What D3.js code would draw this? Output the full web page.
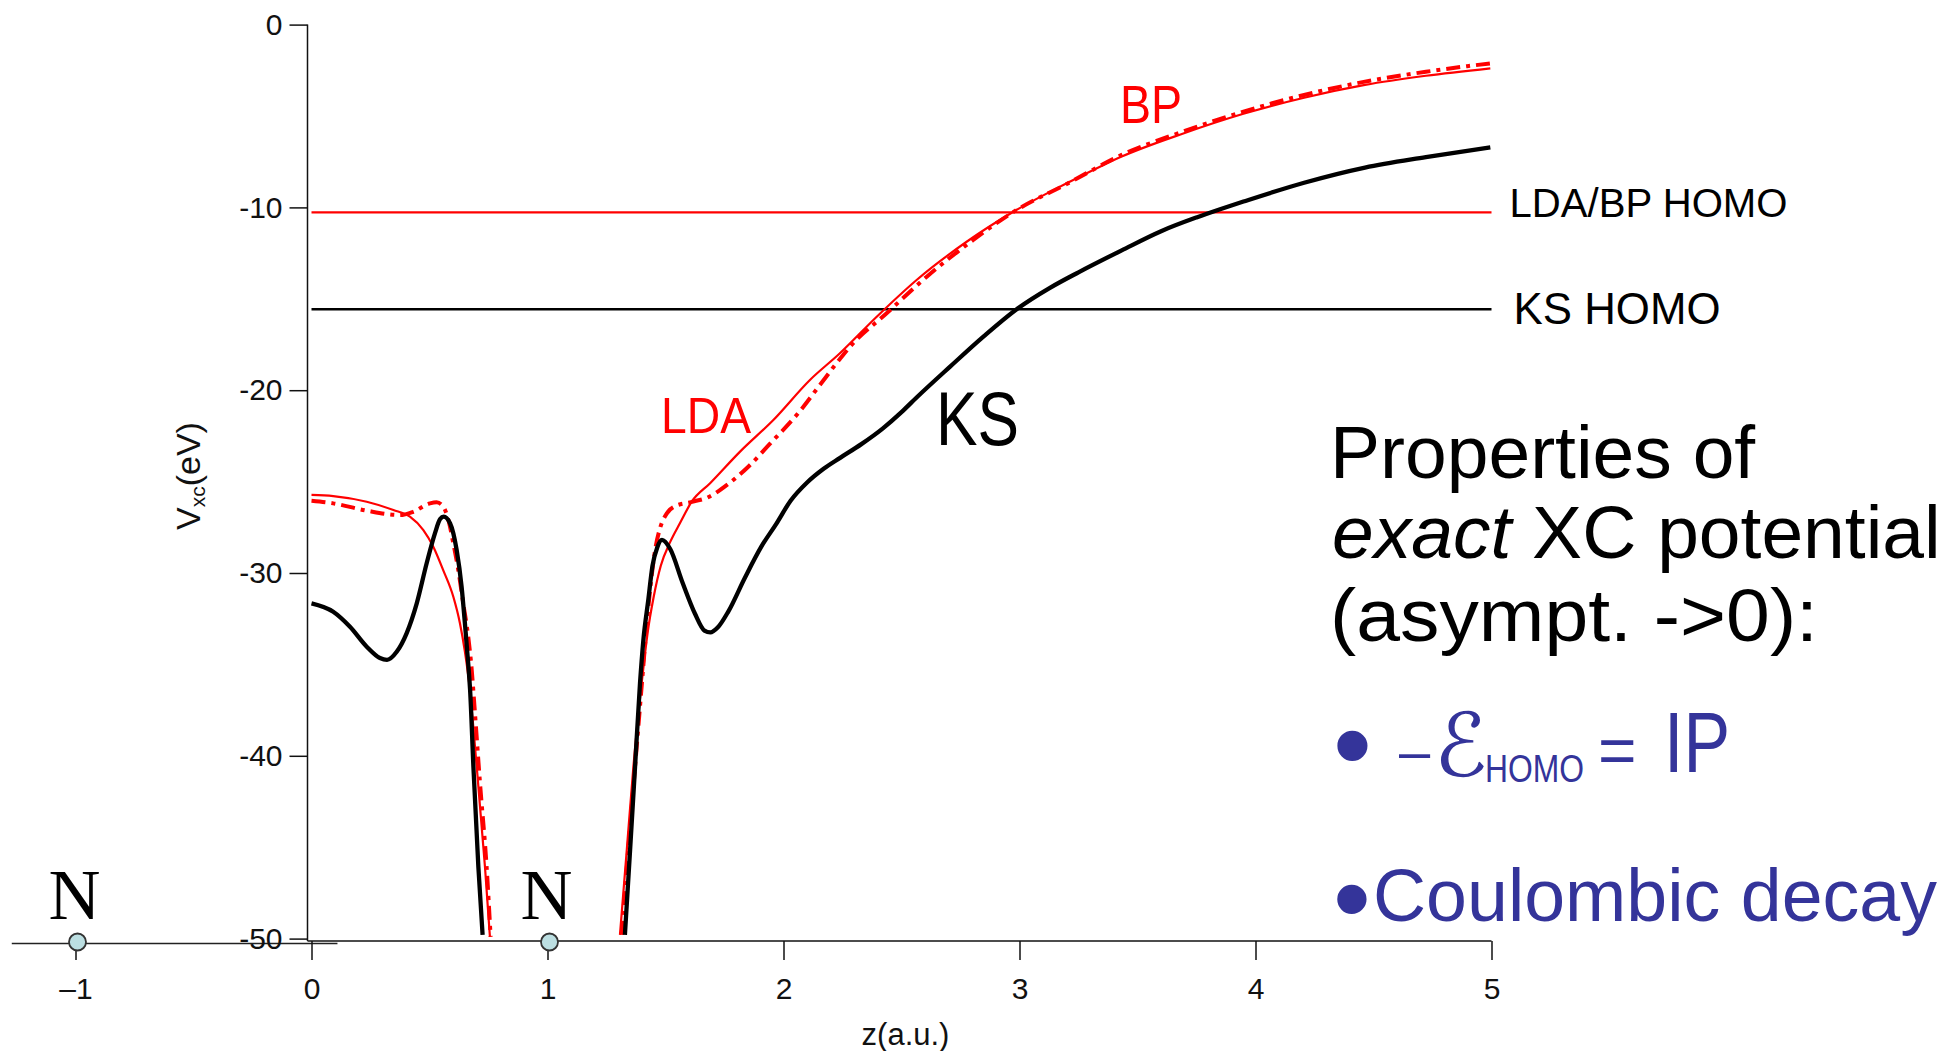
<!DOCTYPE html>
<html><head><meta charset="utf-8">
<script src="https://cdn.jsdelivr.net/npm/d3@7"></script>
<style>html,body{margin:0;padding:0;background:#fff;} svg{display:block}</style>
</head><body>
<script>
// ---- data: [z (a.u.), Vxc (eV)] ----
const ksLeft = [[0.000,-31.66],[0.092,-32.12],[0.163,-32.94],[0.234,-34.03],[0.290,-34.65],[0.320,-34.75],[0.361,-34.31],[0.403,-33.30],[0.446,-31.66],[0.488,-29.47],[0.523,-27.83],[0.545,-27.05],[0.560,-26.92],[0.587,-27.28],[0.615,-28.74],[0.636,-30.75],[0.650,-32.75],[0.664,-34.94],[0.672,-36.40],[0.686,-40.60],[0.707,-46.07],[0.725,-49.80]];
const ksRight = [[1.328,-49.80],[1.350,-45.15],[1.371,-40.60],[1.392,-36.03],[1.406,-33.70],[1.427,-31.48],[1.445,-29.60],[1.465,-28.60],[1.485,-28.19],[1.520,-28.69],[1.572,-30.52],[1.625,-32.23],[1.665,-33.15],[1.690,-33.25],[1.722,-32.97],[1.766,-32.11],[1.836,-30.27],[1.906,-28.56],[1.968,-27.34],[2.030,-26.05],[2.100,-25.05],[2.170,-24.30],[2.240,-23.70],[2.330,-22.95],[2.420,-22.10],[2.500,-21.20],[2.564,-20.40],[2.706,-18.71],[2.847,-17.07],[2.988,-15.57],[3.129,-14.40],[3.250,-13.55],[3.433,-12.35],[3.600,-11.30],[3.750,-10.55],[3.850,-10.10],[3.949,-9.68],[4.206,-8.65],[4.464,-7.82],[4.722,-7.25],[4.995,-6.71]];
const ldaLeft = [[0.000,-25.73],[0.092,-25.79],[0.234,-26.10],[0.347,-26.55],[0.417,-26.92],[0.474,-27.65],[0.516,-28.56],[0.558,-29.84],[0.601,-31.30],[0.629,-32.75],[0.650,-34.30],[0.668,-36.03],[0.700,-40.60],[0.735,-46.07],[0.756,-49.90]];
const ldaRight = [[1.307,-49.80],[1.336,-45.15],[1.364,-40.60],[1.399,-36.03],[1.425,-33.20],[1.450,-31.30],[1.480,-29.60],[1.520,-28.30],[1.561,-27.28],[1.611,-26.10],[1.689,-25.09],[1.816,-23.36],[1.957,-21.63],[2.112,-19.44],[2.239,-17.98],[2.395,-15.98],[2.564,-13.97],[2.776,-11.88],[2.974,-10.24],[3.200,-8.68],[3.341,-7.77],[3.433,-7.22],[3.691,-5.97],[3.949,-4.88],[4.206,-4.00],[4.464,-3.30],[4.722,-2.80],[4.995,-2.39]];
const bpLeft = [[0.000,-26.05],[0.092,-26.19],[0.234,-26.59],[0.375,-26.83],[0.431,-26.65],[0.502,-26.19],[0.530,-26.13],[0.558,-26.37],[0.580,-27.10],[0.601,-28.38],[0.622,-29.84],[0.643,-31.66],[0.664,-33.48],[0.679,-35.31],[0.690,-37.20],[0.714,-41.50],[0.742,-46.07],[0.759,-49.90]];
const bpRight = [[1.314,-49.80],[1.342,-45.15],[1.371,-40.60],[1.400,-36.03],[1.423,-32.48],[1.440,-30.30],[1.458,-28.60],[1.478,-27.50],[1.505,-26.75],[1.538,-26.36],[1.608,-26.12],[1.678,-25.87],[1.766,-25.13],[1.853,-24.16],[1.942,-22.94],[2.064,-21.23],[2.155,-19.70],[2.239,-18.29],[2.282,-17.62],[2.437,-15.79],[2.607,-13.79],[2.804,-11.78],[2.988,-10.14],[3.200,-8.72],[3.433,-7.13],[3.691,-5.86],[3.949,-4.76],[4.206,-3.85],[4.464,-3.12],[4.722,-2.58],[4.995,-2.12]];
const homoLevels = [-10.27, -15.57];
const homoLabels = ["LDA/BP HOMO", "KS HOMO"];
const xTicks = [-1, 0, 1, 2, 3, 4, 5];
const xTickLabels = ["\u20131", "0", "1", "2", "3", "4", "5"];
const yTicks = [0, -10, -20, -30, -40, -50];
const yTickLabels = ["0", "-10", "-20", "-30", "-40", "-50"];
const atoms = [-1, 1];

// ---- drawing ----
const W = 1954, H = 1051;
const SANS = "'Liberation Sans', Arial, Helvetica, sans-serif";
const RED = "#ff0000", BLUE = "#34349a";
const svg = d3.select("body").append("svg").attr("width", W).attr("height", H);
svg.append("rect").attr("width", W).attr("height", H).attr("fill", "#fff");

const x = d3.scaleLinear().domain([0, 5]).range([311.5, 1491.5]);
const y = d3.scaleLinear().domain([-50, 0]).range([938.6, 24.6]);
const axisY = 941;
const yAxisX = x(0) - 4;

// left extension of the baseline (molecule axis)
svg.append("line").attr("x1", x(-1.27)).attr("x2", x(0.11)).attr("y1", axisY + 2.5).attr("y2", axisY + 2.5)
  .attr("stroke", "#222").attr("stroke-width", 1.5);

// x axis
const gx = svg.append("g").attr("transform", `translate(0,${axisY})`)
  .call(d3.axisBottom(x).tickValues(xTicks).tickSize(19).tickPadding(18).tickFormat((d, i) => xTickLabels[i]));
gx.select(".domain").remove();
gx.selectAll(".tick line").attr("stroke", "#111").attr("stroke-width", 1.5);
gx.selectAll(".tick text").attr("font-family", SANS).attr("font-size", 30).attr("fill", "#111");
svg.append("line").attr("x1", yAxisX).attr("x2", x(5)).attr("y1", axisY).attr("y2", axisY)
  .attr("stroke", "#111").attr("stroke-width", 1.5);

// y axis
const gy = svg.append("g").attr("transform", `translate(${yAxisX},0)`)
  .call(d3.axisLeft(y).tickValues(yTicks).tickSize(18).tickPadding(7).tickFormat((d, i) => yTickLabels[i]));
gy.select(".domain").remove();
gy.selectAll(".tick line").attr("stroke", "#111").attr("stroke-width", 1.5);
gy.selectAll(".tick text").attr("font-family", SANS).attr("font-size", 30).attr("fill", "#111");
svg.append("line").attr("x1", yAxisX).attr("x2", yAxisX).attr("y1", y(0)).attr("y2", axisY)
  .attr("stroke", "#111").attr("stroke-width", 1.5);

// axis titles
const yl = svg.append("text").attr("transform", "translate(200,530) rotate(-90)")
  .attr("font-family", SANS).attr("font-size", 34).attr("fill", "#111");
yl.append("tspan").text("V");
yl.append("tspan").attr("font-size", 21).attr("dy", 5).text("xc");
yl.append("tspan").attr("dy", -5).text("(eV)");
svg.append("text").attr("x", (x(2) + x(3)) / 2 + 4).attr("y", 1045).attr("text-anchor", "middle")
  .attr("font-family", SANS).attr("font-size", 31).attr("fill", "#111").text("z(a.u.)");

// atoms
svg.selectAll("circle.atom").data(atoms).join("circle").attr("class", "atom")
  .attr("cx", d => x(d) + 2).attr("cy", axisY + 1).attr("r", 8.5)
  .attr("fill", "#bcdfe2").attr("stroke", "#333").attr("stroke-width", 1.8);
svg.selectAll("text.atom").data(atoms).join("text").attr("class", "atom")
  .attr("x", d => x(d) - 1).attr("y", 919).attr("text-anchor", "middle")
  .attr("font-family", "'Liberation Serif', 'Times New Roman', serif").attr("font-size", 72)
  .attr("fill", "#000").text("N");

// HOMO levels
svg.selectAll("line.homo").data(homoLevels).join("line").attr("class", "homo")
  .attr("x1", x(0)).attr("x2", x(5)).attr("y1", d => y(d)).attr("y2", d => y(d))
  .attr("stroke", (d, i) => i === 0 ? RED : "#000").attr("stroke-width", (d, i) => i === 0 ? 2.2 : 2.6);
svg.append("text").attr("x", x(5) + 18).attr("y", y(homoLevels[0]) + 4.5)
  .attr("font-family", SANS).attr("font-size", 41).attr("textLength", 278).attr("lengthAdjust", "spacingAndGlyphs")
  .attr("fill", "#000").text(homoLabels[0]);
svg.append("text").attr("x", x(5) + 22).attr("y", y(homoLevels[1]) + 15)
  .attr("font-family", SANS).attr("font-size", 45).attr("textLength", 207).attr("lengthAdjust", "spacingAndGlyphs")
  .attr("fill", "#000").text(homoLabels[1]);

// curves
const line = d3.line().x(d => x(d[0])).y(d => y(d[1])).curve(d3.curveMonotoneX);
[ldaLeft, ldaRight].forEach(s => svg.append("path").attr("d", line(s)).attr("fill", "none")
  .attr("stroke", RED).attr("stroke-width", 2.2));
[bpLeft, bpRight].forEach(s => svg.append("path").attr("d", line(s)).attr("fill", "none")
  .attr("stroke", RED).attr("stroke-width", 4).attr("stroke-dasharray", "14,6,4,6"));
[ksLeft, ksRight].forEach(s => svg.append("path").attr("d", line(s)).attr("fill", "none")
  .attr("stroke", "#000").attr("stroke-width", 4.3).attr("stroke-linejoin", "round"));

// curve labels
svg.append("text").attr("x", 661).attr("y", 433).attr("font-family", SANS).attr("font-size", 50)
  .attr("textLength", 90).attr("lengthAdjust", "spacingAndGlyphs").attr("fill", RED).text("LDA");
svg.append("text").attr("x", 1120).attr("y", 123).attr("font-family", SANS).attr("font-size", 53)
  .attr("textLength", 62).attr("lengthAdjust", "spacingAndGlyphs").attr("fill", RED).text("BP");
svg.append("text").attr("x", 936).attr("y", 445).attr("font-family", SANS).attr("font-size", 76)
  .attr("textLength", 83).attr("lengthAdjust", "spacingAndGlyphs").attr("fill", "#000").text("KS");

// text block
const tb = svg.append("g").attr("font-family", SANS).attr("font-size", 75);
tb.append("text").attr("x", 1330).attr("y", 478).attr("fill", "#000").text("Properties of");
const l2 = tb.append("text").attr("x", 1332).attr("y", 558).attr("fill", "#000");
l2.append("tspan").attr("font-style", "italic").text("exact");
l2.append("tspan").text(" XC potential");
tb.append("text").attr("x", 1330).attr("y", 641).attr("textLength", 488).attr("lengthAdjust", "spacingAndGlyphs")
  .attr("fill", "#000").text("(asympt. ->0):");

// bullet 1
tb.append("text").attr("x", 1333).attr("y", 783).attr("font-size", 111).attr("fill", BLUE).text("\u2022");
tb.append("text").attr("x", 1399).attr("y", 770).attr("font-size", 56).attr("fill", BLUE).text("\u2013");
tb.append("text").attr("x", 1434).attr("y", 776).attr("font-family", "'DejaVu Serif', 'DejaVu Sans', serif")
  .attr("font-style", "italic").attr("font-size", 88).attr("fill", BLUE).text("\u2130");
tb.append("text").attr("x", 1485).attr("y", 782).attr("font-size", 38).attr("textLength", 99)
  .attr("lengthAdjust", "spacingAndGlyphs").attr("fill", BLUE).text("HOMO");
tb.append("text").attr("x", 1598).attr("y", 773).attr("font-size", 66).attr("fill", BLUE).text("=");
tb.append("text").attr("x", 1664).attr("y", 772).attr("font-size", 85).attr("textLength", 66)
  .attr("lengthAdjust", "spacingAndGlyphs").attr("fill", BLUE).text("IP");
// bullet 2
tb.append("text").attr("x", 1333).attr("y", 935).attr("font-size", 108).attr("fill", BLUE).text("\u2022");
tb.append("text").attr("x", 1373).attr("y", 921).attr("font-size", 74).attr("textLength", 564)
  .attr("lengthAdjust", "spacingAndGlyphs").attr("fill", BLUE).text("Coulombic decay");
</script>
</body></html>
